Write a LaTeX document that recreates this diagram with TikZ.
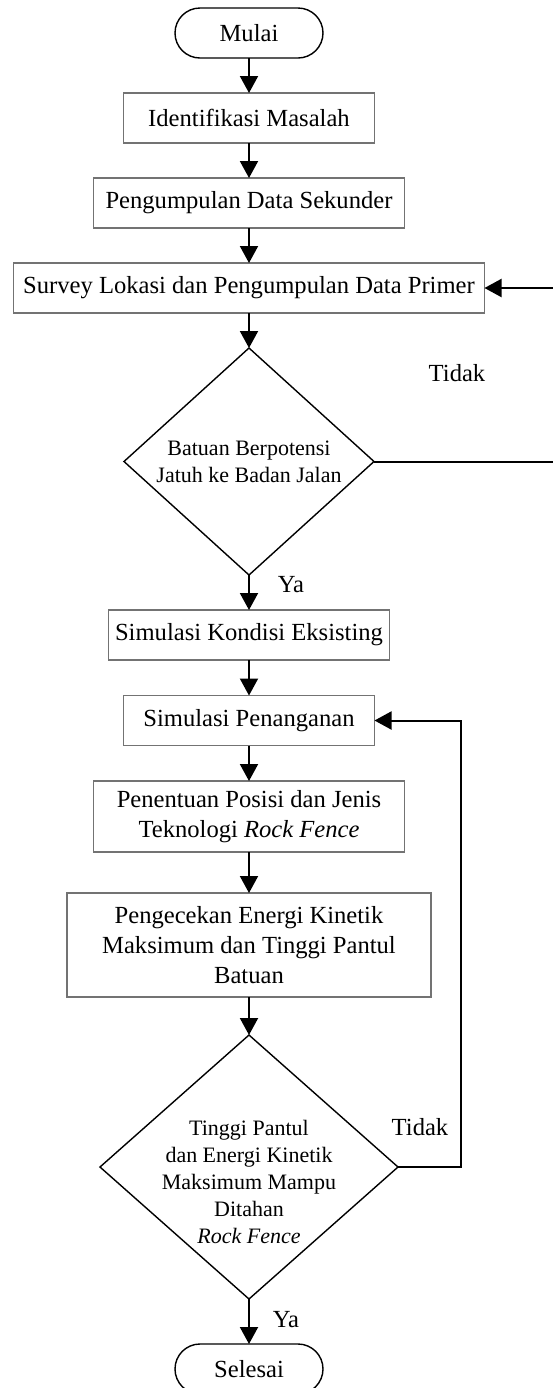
\documentclass[tikz,border=0pt]{standalone}
\usepackage{fontspec}
\setmainfont{Liberation Serif}
\usetikzlibrary{shapes.geometric,arrows.meta}
\begin{document}
\begin{tikzpicture}[x=0.5pt,y=-0.5pt,
  proc/.style={draw=black!55,line width=0.6pt,rectangle,inner sep=0pt,outer sep=0pt,minimum height=25pt,align=center,font=\fontsize{12.3pt}{15pt}\selectfont},
  term/.style={draw=black,line width=0.7pt,rectangle,rounded corners=12.5pt,inner sep=0pt,outer sep=0pt,minimum width=74pt,minimum height=25pt,font=\fontsize{12.3pt}{15pt}\selectfont},
  decis/.style={draw=black,line width=0.7pt,diamond,inner sep=0pt,outer sep=0pt},
  dtext/.style={align=center,font=\fontsize{11pt}{13.6pt}\selectfont,inner sep=0pt},
  flow/.style={line width=1pt,-{Triangle[length=8.5pt,width=9pt]}},
  lbl/.style={font=\fontsize{12.3pt}{15pt}\selectfont,inner sep=0pt}]
\useasboundingbox (0,0) rectangle (552,1388);

\node[term] (mulai) at (249,33) {Mulai};
\node[proc,minimum width=125.5pt] (ident) at (249,118) {Identifikasi Masalah};
\node[proc,minimum width=155.5pt] (sek) at (249,203) {Pengumpulan Data Sekunder};
\node[proc,minimum width=235.5pt] (survey) at (249,288) {Survey Lokasi dan Pengumpulan Data Primer};
\node[decis,minimum width=125pt,minimum height=113.5pt] (d1) at (249,461.5) {};
\node[dtext] (d1t) at (249,461.5) {Batuan Berpotensi\\Jatuh ke Badan Jalan};
\node[proc,minimum width=140.5pt] (kond) at (249,635) {Simulasi Kondisi Eksisting};
\node[proc,minimum width=125.5pt] (pen) at (249,720.5) {Simulasi Penanganan};
\node[proc,minimum width=155.5pt,minimum height=35.5pt] (tent) at (249,816.5) {Penentuan Posisi dan Jenis\\Teknologi \textit{Rock Fence}};
\node[proc,minimum width=182pt,minimum height=52pt] (cek) at (249,945) {Pengecekan Energi Kinetik\\Maksimum dan Tinggi Pantul\\Batuan};
\node[decis,minimum width=149pt,minimum height=132pt] (d2) at (249,1167) {};
\node[dtext] (d2t) at (249,1182) {Tinggi Pantul\\dan Energi Kinetik\\Maksimum Mampu\\Ditahan\\\textit{Rock Fence}};
\node[term] (sel) at (249,1369) {Selesai};

\node[lbl] (t1) at (457,373) {Tidak};
\node[lbl] (y1) at (291,585) {Ya};
\node[lbl] (t2) at (420,1127) {Tidak};
\node[lbl] (y2) at (286,1320) {Ya};

\draw[flow] (mulai.south) -- (ident.north);
\draw[flow] (ident.south) -- (sek.north);
\draw[flow] (sek.south) -- (survey.north);
\draw[flow] (survey.south) -- (d1.north);
\draw[flow] (d1.south) -- (kond.north);
\draw[flow] (kond.south) -- (pen.north);
\draw[flow] (pen.south) -- (tent.north);
\draw[flow] (tent.south) -- (cek.north);
\draw[flow] (cek.south) -- (d2.north);
\draw[flow] (d2.south) -- (sel.north);

\coordinate (r1) at (562,461.5);
\coordinate (r2) at (562,288);
\draw[flow] (d1.east) -- (r1) -- (r2) -- (survey.east);

\coordinate (r3) at (461,1167);
\coordinate (r4) at (461,720.5);
\draw[flow] (d2.east) -- (r3) -- (r4) -- (pen.east);
\end{tikzpicture}
\end{document}
